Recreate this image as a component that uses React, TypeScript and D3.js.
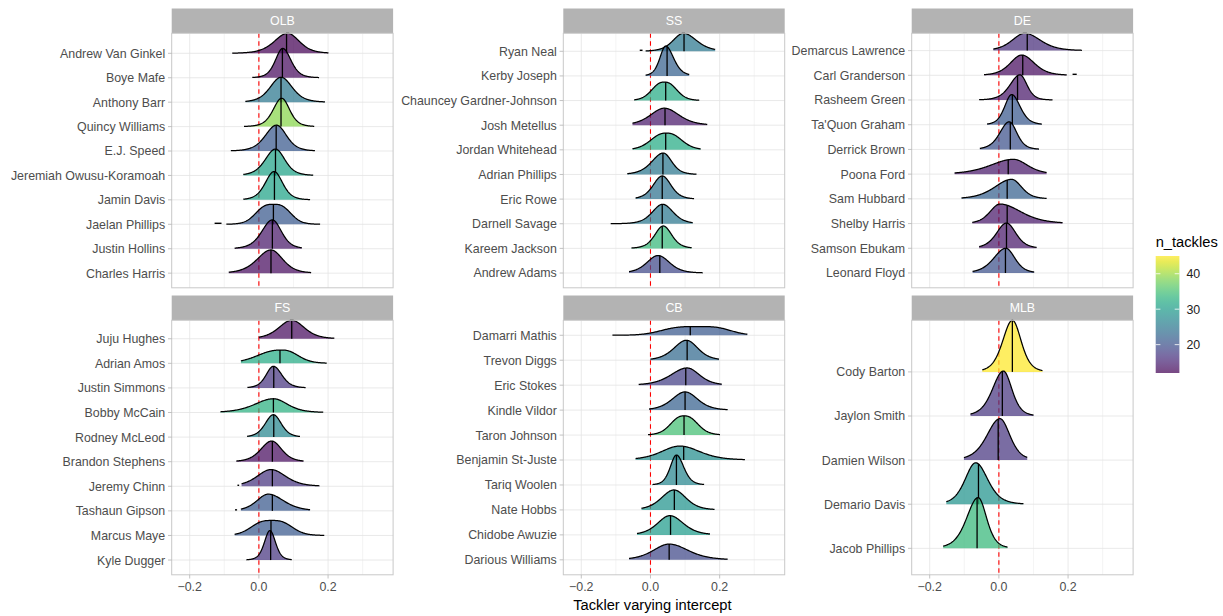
import React from "react";
import * as d3 from "d3";

// ---------- data ----------
// ridge tuple: [lo, hi, mode, peakHeight(units), halfWidthLeft, halfWidthRight, median, flatness]
const facetNames = ["OLB", "SS", "DE", "FS", "CB", "MLB"];

const olbNames = ["Andrew Van Ginkel", "Boye Mafe", "Anthony Barr", "Quincy Williams", "E.J. Speed", "Jeremiah Owusu-Koramoah", "Jamin Davis", "Jaelan Phillips", "Justin Hollins", "Charles Harris"];
const olbTackles = [12, 13, 25, 39, 21, 31, 31, 21, 14, 13];
const olbRidges = [
  [-0.077, 0.201, 0.083, 0.82, 0.045, 0.040, 0.080, 2],
  [-0.019, 0.174, 0.069, 1.20, 0.025, 0.028, 0.068, 2],
  [-0.039, 0.191, 0.064, 1.02, 0.037, 0.038, 0.064, 2],
  [-0.043, 0.160, 0.066, 1.16, 0.029, 0.027, 0.064, 2],
  [-0.081, 0.162, 0.051, 1.06, 0.038, 0.034, 0.050, 2],
  [-0.045, 0.157, 0.048, 1.08, 0.035, 0.032, 0.048, 2],
  [-0.045, 0.148, 0.044, 1.16, 0.030, 0.029, 0.045, 2],
  [-0.094, 0.177, 0.042, 0.82, 0.054, 0.053, 0.042, 3],
  [-0.070, 0.124, 0.039, 1.18, 0.036, 0.031, 0.039, 2],
  [-0.087, 0.151, 0.035, 0.95, 0.047, 0.040, 0.035, 2],
];

const ssNames = ["Ryan Neal", "Kerby Joseph", "Chauncey Gardner-Johnson", "Josh Metellus", "Jordan Whitehead", "Adrian Phillips", "Eric Rowe", "Darnell Savage", "Kareem Jackson", "Andrew Adams"];
const ssTackles = [25, 22, 32, 14, 32, 25, 24, 25, 34, 19];
const ssRidges = [
  [-0.014, 0.187, 0.095, 0.73, 0.035, 0.045, 0.097, 2],
  [-0.014, 0.112, 0.044, 1.21, 0.020, 0.027, 0.048, 2],
  [-0.047, 0.141, 0.040, 0.75, 0.040, 0.040, 0.044, 2.5],
  [-0.052, 0.164, 0.040, 0.69, 0.047, 0.050, 0.042, 2],
  [-0.052, 0.145, 0.046, 0.68, 0.050, 0.049, 0.044, 2.5],
  [-0.067, 0.133, 0.037, 0.87, 0.039, 0.029, 0.036, 2],
  [-0.043, 0.126, 0.034, 0.94, 0.031, 0.030, 0.034, 2],
  [-0.115, 0.122, 0.035, 0.79, 0.035, 0.036, 0.034, 2],
  [-0.055, 0.119, 0.037, 0.91, 0.029, 0.029, 0.034, 2],
  [-0.062, 0.151, 0.022, 0.71, 0.038, 0.039, 0.027, 2],
];

const deNames = ["Demarcus Lawrence", "Carl Granderson", "Rasheem Green", "Ta'Quon Graham", "Derrick Brown", "Poona Ford", "Sam Hubbard", "Shelby Harris", "Samson Ebukam", "Leonard Floyd"];
const deTackles = [16, 13, 14, 21, 20, 14, 22, 14, 14, 20];
const deRidges = [
  [-0.016, 0.240, 0.075, 0.70, 0.043, 0.053, 0.082, 2],
  [-0.043, 0.196, 0.066, 0.82, 0.039, 0.043, 0.069, 2],
  [-0.057, 0.155, 0.061, 1.02, 0.034, 0.024, 0.054, 2],
  [-0.034, 0.124, 0.037, 1.22, 0.024, 0.029, 0.039, 2],
  [-0.055, 0.116, 0.030, 1.12, 0.032, 0.026, 0.033, 2],
  [-0.128, 0.138, 0.042, 0.60, 0.078, 0.048, 0.027, 2],
  [-0.108, 0.138, 0.037, 0.79, 0.058, 0.034, 0.024, 2],
  [-0.077, 0.184, 0.003, 0.79, 0.034, 0.072, 0.024, 2],
  [-0.057, 0.109, 0.022, 1.02, 0.034, 0.032, 0.022, 2],
  [-0.076, 0.102, 0.020, 1.00, 0.041, 0.031, 0.019, 2],
];

const fsNames = ["Juju Hughes", "Adrian Amos", "Justin Simmons", "Bobby McCain", "Rodney McLeod", "Brandon Stephens", "Jeremy Chinn", "Tashaun Gipson", "Marcus Maye", "Kyle Dugger"];
const fsTackles = [13, 32, 17, 33, 27, 13, 17, 21, 21, 17];
const fsRidges = [
  [0.000, 0.218, 0.095, 0.75, 0.044, 0.043, 0.095, 2],
  [-0.052, 0.196, 0.066, 0.54, 0.078, 0.053, 0.061, 2.5],
  [-0.033, 0.135, 0.042, 0.88, 0.025, 0.029, 0.043, 2],
  [-0.111, 0.186, 0.042, 0.56, 0.063, 0.048, 0.042, 2],
  [-0.034, 0.119, 0.042, 0.91, 0.028, 0.027, 0.043, 2],
  [-0.065, 0.129, 0.037, 0.84, 0.037, 0.034, 0.039, 2],
  [-0.050, 0.175, 0.035, 0.68, 0.047, 0.050, 0.039, 2],
  [-0.052, 0.148, 0.027, 0.68, 0.039, 0.053, 0.039, 2],
  [-0.070, 0.189, 0.037, 0.61, 0.063, 0.063, 0.035, 3],
  [-0.036, 0.095, 0.032, 1.20, 0.019, 0.019, 0.034, 2],
];

const cbNames = ["Damarri Mathis", "Trevon Diggs", "Eric Stokes", "Kindle Vildor", "Taron Johnson", "Benjamin St-Juste", "Tariq Woolen", "Nate Hobbs", "Chidobe Awuzie", "Darious Williams"];
const cbTackles = [21, 23, 18, 22, 35, 28, 27, 29, 30, 19];
const cbRidges = [
  [-0.110, 0.280, 0.138, 0.35, 0.111, 0.097, 0.115, 3.5],
  [0.000, 0.198, 0.104, 0.80, 0.043, 0.039, 0.106, 2],
  [-0.034, 0.206, 0.106, 0.69, 0.055, 0.042, 0.102, 2],
  [-0.004, 0.223, 0.100, 0.73, 0.044, 0.043, 0.100, 2],
  [-0.007, 0.201, 0.097, 0.77, 0.043, 0.044, 0.097, 2.5],
  [-0.043, 0.273, 0.085, 0.56, 0.063, 0.068, 0.096, 2],
  [0.006, 0.155, 0.075, 1.20, 0.021, 0.025, 0.075, 2],
  [-0.026, 0.185, 0.068, 0.80, 0.043, 0.041, 0.069, 2],
  [-0.039, 0.172, 0.056, 0.77, 0.042, 0.046, 0.058, 2],
  [-0.062, 0.223, 0.054, 0.63, 0.054, 0.065, 0.054, 2],
];

const mlbNames = ["Cody Barton", "Jaylon Smith", "Damien Wilson", "Demario Davis", "Jacob Phillips"];
const mlbTackles = [45, 17, 17, 29, 34];
const mlbRidges = [
  [-0.048, 0.126, 0.039, 1.17, 0.033, 0.030, 0.039, 2],
  [-0.082, 0.100, 0.013, 1.02, 0.037, 0.029, 0.010, 2],
  [-0.101, 0.082, 0.003, 0.94, 0.044, 0.034, -0.002, 2],
  [-0.152, 0.071, -0.067, 0.94, 0.036, 0.041, -0.059, 2],
  [-0.161, 0.025, -0.060, 1.15, 0.039, 0.029, -0.063, 2],
];

// small detached tail pieces: [player, from, to]
const tailFragments: [string, number, number][] = [
  ["Jaelan Phillips", -0.128, -0.108],
  ["Ryan Neal", -0.031, -0.023],
  ["Carl Granderson", 0.213, 0.225],
  ["Jeremy Chinn", -0.062, -0.057],
  ["Tashaun Gipson", -0.069, -0.063],
];

const xTicks = [-0.2, 0.0, 0.2];
const xMinor = [-0.1, 0.1, 0.3];
const legendTicks = [20, 30, 40];

// ---------- layout ----------
const W = 1223, H = 616;
const colLefts = [171.7, 563.3, 911.7];
const panelW = 221.4;
const rowTops = [33.3, 320.3];
const panelH = 254.5;
const stripH = 24.8;
const X_DOMAIN: [number, number] = [-0.252, 0.388];
const FONT = "'Liberation Sans', Arial, Helvetica, sans-serif";
const ALPHA = 0.72;
const AXIS_FS = 12.4;

const facetNameLists = [olbNames, ssNames, deNames, fsNames, cbNames, mlbNames];
const facetTackles = [olbTackles, ssTackles, deTackles, fsTackles, cbTackles, mlbTackles];
const facetRidges = [olbRidges, ssRidges, deRidges, fsRidges, cbRidges, mlbRidges];

const allTackles = facetTackles.flat();
const colorScale = d3
  .scaleSequential(d3.interpolateViridis)
  .domain([d3.min(allTackles) as number, d3.max(allTackles) as number]);

const NU = 6;
const CC = Math.pow(2, 2 / (NU + 1)) - 1;
function dens(r: number[], x: number) {
  const [, , mode, h, hwL, hwR, , p] = r;
  const dx = x - mode;
  const hw = dx < 0 ? hwL : hwR;
  return h * Math.pow(1 + CC * Math.pow(Math.abs(dx) / hw, p || 2), -(NU + 1) / 2);
}

function Facet({ fi }: { fi: number }) {
  const col = fi % 3;
  const row = Math.floor(fi / 3);
  const left = colLefts[col];
  const top = rowTops[row];
  const bottom = top + panelH;
  const names = facetNameLists[fi];
  const tackles = facetTackles[fi];
  const ridges = facetRidges[fi];
  const n = names.length;
  const baseIdx = (i: number) => n - i; // first listed sits on top
  const yMaxUnits = Math.max(n + 0.6, d3.max(ridges, (r, i) => baseIdx(i) + r[3]) as number);
  const x = d3.scaleLinear().domain(X_DOMAIN).range([left, left + panelW]);
  const y = d3.scaleLinear().domain([0.4, yMaxUnits]).range([bottom, top]);

  const ridgeEls = ridges.map((r, i) => {
    const b = baseIdx(i);
    const [lo, hi, , , , , med] = r;
    const xs = d3.range(0, 161).map((k) => lo + ((hi - lo) * k) / 160);
    xs.push(r[2]);
    xs.sort((a, b2) => a - b2);
    const pts = xs.map((v) => [v, dens(r, v)] as [number, number]);
    const area = d3
      .area<[number, number]>()
      .x((d) => x(d[0]))
      .y0(y(b))
      .y1((d) => y(b + d[1]))
      .curve(d3.curveLinear);
    const line = d3
      .line<[number, number]>()
      .x((d) => x(d[0]))
      .y((d) => y(b + d[1]));
    const frags = tailFragments.filter((f) => f[0] === names[i]);
    return (
      <g key={names[i]}>
        <path d={area(pts) || ""} fill={colorScale(tackles[i])} fillOpacity={ALPHA} stroke="none" />
        <path d={line(pts) || ""} fill="none" stroke="#000" strokeWidth={1.25} strokeLinejoin="round" />
        <line x1={x(med)} x2={x(med)} y1={y(b)} y2={y(b + dens(r, med))} stroke="#000" strokeWidth={1.3} />
        {frags.map((f, k) => (
          <line key={k} x1={x(f[1])} x2={x(f[2])} y1={y(b) - 1} y2={y(b) - 1} stroke="#000" strokeWidth={1.4} />
        ))}
      </g>
    );
  });

  return (
    <g>
      {/* strip */}
      <rect x={left} y={top - stripH} width={panelW} height={stripH} fill="#B3B3B3" />
      <text x={left + panelW / 2} y={top - stripH / 2} dy="0.36em" textAnchor="middle" fill="#FFFFFF" fontSize={AXIS_FS} fontFamily={FONT}>
        {facetNames[fi]}
      </text>
      {/* panel */}
      <rect x={left} y={top} width={panelW} height={panelH} fill="#FFFFFF" />
      {xMinor.map((t) => (
        <line key={"mn" + t} x1={x(t)} x2={x(t)} y1={top} y2={bottom} stroke="#EDEDED" strokeWidth={0.6} />
      ))}
      {xTicks.map((t) => (
        <line key={"mj" + t} x1={x(t)} x2={x(t)} y1={top} y2={bottom} stroke="#E3E3E3" strokeWidth={0.8} />
      ))}
      {names.map((nm, i) => (
        <line key={"hg" + nm} x1={left} x2={left + panelW} y1={y(baseIdx(i))} y2={y(baseIdx(i))} stroke="#E3E3E3" strokeWidth={0.8} />
      ))}
      {/* zero reference */}
      <line x1={x(0)} x2={x(0)} y1={top} y2={bottom} stroke="#FF0000" strokeWidth={1.1} strokeDasharray="4.5,3.5" />
      {ridgeEls}
      <rect x={left} y={top} width={panelW} height={panelH} fill="none" stroke="#C8C8C8" strokeWidth={1} />
      {/* y axis */}
      {names.map((nm, i) => (
        <g key={"yl" + nm}>
          <line x1={left - 3.7} x2={left} y1={y(baseIdx(i))} y2={y(baseIdx(i))} stroke="#B3B3B3" strokeWidth={0.8} />
          <text x={left - 6.5} y={y(baseIdx(i))} dy="0.36em" textAnchor="end" fill="#4D4D4D" fontSize={AXIS_FS} fontFamily={FONT}>
            {nm}
          </text>
        </g>
      ))}
      {/* x axis (bottom row only) */}
      {row === 1 &&
        xTicks.map((t) => (
          <g key={"xt" + t}>
            <line x1={x(t)} x2={x(t)} y1={bottom} y2={bottom + 3.7} stroke="#B3B3B3" strokeWidth={0.8} />
            <text x={x(t)} y={bottom + 16} textAnchor="middle" fill="#4D4D4D" fontSize={AXIS_FS} fontFamily={FONT}>
              {d3.format(".1f")(t)}
            </text>
          </g>
        ))}
    </g>
  );
}

function Legend() {
  const bx = 1155.7, bw = 23.7, by0 = 256, by1 = 373;
  const [mn, mx] = colorScale.domain();
  const ly = d3.scaleLinear().domain([mn, mx]).range([by1, by0]);
  const stops = d3.range(0, 21).map((k) => k / 20);
  return (
    <g>
      <defs>
        <linearGradient id="vgrad" x1="0" y1="1" x2="0" y2="0">
          {stops.map((s) => (
            <stop key={s} offset={s} stopColor={colorScale(mn + s * (mx - mn))} stopOpacity={ALPHA} />
          ))}
        </linearGradient>
      </defs>
      <text x={bx} y={246.5} fill="#000" fontSize={14.7} fontFamily={FONT}>
        n_tackles
      </text>
      <rect x={bx} y={by0} width={bw} height={by1 - by0} fill="url(#vgrad)" />
      {legendTicks.map((t) => (
        <g key={t}>
          <line x1={bx} x2={bx + 4.7} y1={ly(t)} y2={ly(t)} stroke="#FFFFFF" strokeWidth={0.8} />
          <line x1={bx + bw - 4.7} x2={bx + bw} y1={ly(t)} y2={ly(t)} stroke="#FFFFFF" strokeWidth={0.8} />
          <text x={bx + bw + 7} y={ly(t)} dy="0.36em" fill="#222" fontSize={AXIS_FS} fontFamily={FONT}>
            {t}
          </text>
        </g>
      ))}
    </g>
  );
}

export default function App() {
  return (
    <svg width={W} height={H} style={{ position: "absolute", left: 0, top: 0, background: "#fff" }}>
      <rect x={0} y={0} width={W} height={H} fill="#FFFFFF" />
      {facetNames.map((_, fi) => (
        <Facet key={fi} fi={fi} />
      ))}
      <text x={(colLefts[0] + colLefts[2] + panelW) / 2} y={609.5} textAnchor="middle" fill="#000" fontSize={14.7} fontFamily={FONT}>
        Tackler varying intercept
      </text>
      <Legend />
    </svg>
  );
}
